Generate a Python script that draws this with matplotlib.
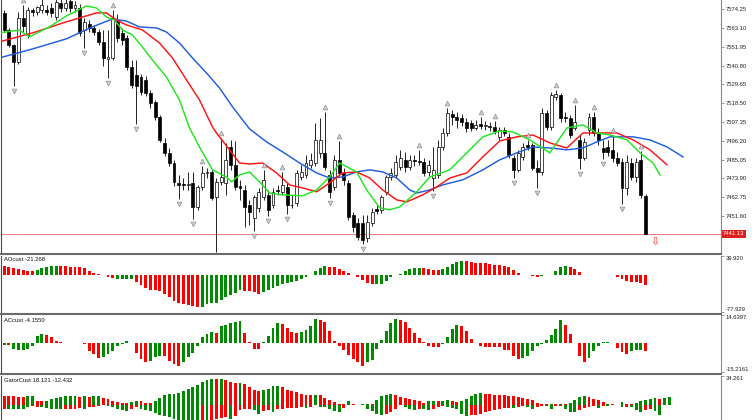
import matplotlib
matplotlib.use("Agg")
import matplotlib.pyplot as plt
import matplotlib.transforms as mtransforms
from matplotlib.lines import Line2D
import numpy as np

plt.rcParams["font.family"] = ["Liberation Sans", "DejaVu Sans"]

# ---- price bars (one per bar, oldest first) ----
opens = [
    7572.1, 7562.0, 7553.1, 7543.0, 7569.1, 7559.0, 7573.9, 7572.7, 7573.9, 7573.9,
    7575.1, 7569.7, 7578.0, 7575.1, 7579.2, 7575.1, 7575.1, 7562.0, 7565.6, 7563.2,
    7560.8, 7554.9, 7544.8, 7545.4, 7567.9, 7560.2, 7557.3, 7540.1, 7535.3, 7534.1,
    7532.4, 7524.6, 7519.3, 7510.4, 7495.0, 7489.1, 7483.1, 7471.3, 7470.7, 7470.1,
    7471.3, 7457.0, 7468.9, 7477.2, 7477.8, 7463.0, 7471.9, 7471.3, 7492.6, 7482.0,
    7469.5, 7467.1, 7458.2, 7450.5, 7456.5, 7463.0, 7464.2, 7458.2, 7467.1, 7466.0,
    7468.9, 7458.2, 7459.4, 7474.8, 7476.0, 7482.0, 7483.1, 7489.1, 7489.1, 7476.0,
    7468.9, 7484.9, 7477.2, 7471.3, 7452.3, 7447.6, 7447.6, 7438.7, 7447.6, 7455.9,
    7455.3, 7466.0, 7474.8, 7476.0, 7480.8, 7484.9, 7480.8, 7484.9, 7484.3, 7483.7,
    7477.8, 7474.2, 7476.0, 7492.6, 7500.9, 7512.2, 7510.4, 7509.8, 7507.5, 7506.9,
    7503.9, 7506.3, 7505.1, 7505.1, 7504.5, 7498.6, 7502.7, 7498.6, 7486.1, 7479.0,
    7486.7, 7493.8, 7493.8, 7480.2, 7477.8, 7512.8, 7504.5, 7522.3, 7523.5, 7510.4,
    7509.8, 7503.9, 7496.8, 7486.1, 7502.7, 7510.4, 7500.9, 7492.0, 7492.6, 7490.9,
    7486.1, 7483.7, 7468.3, 7483.1, 7474.8, 7484.9, 7463.6]
highs = [
    7573.9, 7563.2, 7553.7, 7572.7, 7576.8, 7575.6, 7575.0, 7576.2, 7581.0, 7576.8,
    7578.0, 7582.2, 7581.6, 7582.8, 7581.6, 7579.2, 7577.4, 7569.1, 7567.9, 7565.0,
    7562.6, 7562.0, 7562.0, 7573.9, 7571.5, 7563.2, 7559.0, 7544.2, 7544.2, 7535.9,
    7534.7, 7526.4, 7520.5, 7511.6, 7498.0, 7492.0, 7484.9, 7476.0, 7474.2, 7477.8,
    7477.8, 7470.1, 7481.4, 7480.2, 7479.0, 7474.2, 7498.0, 7495.0, 7496.8, 7496.0,
    7473.1, 7470.1, 7461.2, 7464.2, 7468.3, 7479.0, 7467.1, 7468.3, 7470.1, 7477.8,
    7471.3, 7464.2, 7479.0, 7482.0, 7487.9, 7489.1, 7506.9, 7509.8, 7513.4, 7479.0,
    7487.9, 7496.2, 7480.2, 7473.1, 7454.1, 7450.5, 7452.3, 7452.3, 7456.5, 7458.2,
    7464.2, 7476.0, 7480.2, 7487.9, 7490.9, 7489.7, 7487.9, 7487.9, 7490.9, 7486.1,
    7484.9, 7492.6, 7496.8, 7503.9, 7515.8, 7514.6, 7513.4, 7512.2, 7509.8, 7508.6,
    7508.6, 7510.4, 7508.0, 7507.5, 7508.0, 7504.5, 7504.5, 7500.9, 7487.9, 7490.9,
    7495.0, 7496.8, 7495.0, 7484.9, 7515.8, 7514.6, 7525.2, 7526.4, 7524.6, 7513.4,
    7511.6, 7517.5, 7499.7, 7498.0, 7512.8, 7513.4, 7503.9, 7496.8, 7496.8, 7499.7,
    7489.7, 7486.1, 7487.9, 7486.1, 7486.1, 7490.2, 7464.8]
lows = [
    7560.8, 7551.9, 7528.8, 7541.8, 7560.8, 7557.3, 7570.3, 7570.9, 7572.1, 7570.9,
    7569.7, 7567.9, 7572.7, 7573.3, 7572.7, 7572.7, 7558.5, 7551.3, 7560.8, 7559.0,
    7553.1, 7540.7, 7533.5, 7544.2, 7554.9, 7553.1, 7538.3, 7527.6, 7506.3, 7523.5,
    7522.9, 7515.8, 7508.6, 7495.6, 7487.3, 7481.4, 7469.5, 7461.8, 7467.1, 7467.1,
    7449.9, 7455.3, 7467.1, 7474.2, 7461.2, 7430.4, 7470.1, 7464.2, 7479.0, 7467.1,
    7461.2, 7445.2, 7446.4, 7442.8, 7454.1, 7461.2, 7451.7, 7456.5, 7464.2, 7464.2,
    7452.9, 7456.5, 7457.6, 7473.1, 7474.2, 7480.2, 7481.4, 7486.1, 7479.0, 7462.4,
    7467.1, 7475.4, 7470.1, 7449.3, 7442.2, 7437.5, 7435.1, 7436.3, 7445.8, 7452.9,
    7453.5, 7464.2, 7473.1, 7474.2, 7479.0, 7477.8, 7479.0, 7481.4, 7482.0, 7475.4,
    7475.4, 7466.5, 7474.2, 7490.9, 7499.1, 7505.7, 7503.9, 7505.1, 7501.5, 7502.1,
    7502.7, 7503.3, 7502.7, 7502.1, 7500.3, 7496.8, 7499.1, 7486.1, 7474.2, 7477.8,
    7484.9, 7490.9, 7479.0, 7468.3, 7476.0, 7502.7, 7502.7, 7520.5, 7507.5, 7507.5,
    7498.0, 7502.7, 7479.6, 7484.9, 7499.7, 7499.1, 7493.8, 7485.5, 7487.3, 7483.7,
    7481.4, 7458.8, 7464.2, 7473.1, 7471.9, 7462.4, 7440.9]
closes = [
    7562.0, 7553.1, 7543.0, 7569.1, 7564.4, 7573.9, 7572.7, 7575.6, 7576.8, 7572.7,
    7572.1, 7578.6, 7575.1, 7578.0, 7575.1, 7576.8, 7560.2, 7566.8, 7563.2, 7560.8,
    7554.9, 7545.4, 7546.0, 7569.1, 7557.3, 7556.1, 7540.1, 7529.4, 7528.8, 7525.2,
    7524.6, 7518.7, 7510.4, 7496.8, 7489.1, 7483.1, 7471.9, 7470.1, 7470.1, 7470.7,
    7457.0, 7468.9, 7477.2, 7477.8, 7462.4, 7471.9, 7474.8, 7484.9, 7482.0, 7468.9,
    7468.3, 7457.0, 7454.1, 7463.0, 7466.0, 7473.1, 7455.3, 7466.0, 7466.5, 7470.1,
    7458.2, 7458.0, 7477.2, 7477.8, 7483.1, 7484.9, 7496.8, 7496.8, 7480.8, 7466.0,
    7484.9, 7477.2, 7473.1, 7451.1, 7445.2, 7439.3, 7437.5, 7448.2, 7454.1, 7454.7,
    7463.0, 7474.8, 7477.2, 7483.7, 7486.1, 7480.8, 7484.9, 7484.3, 7483.7, 7477.2,
    7482.0, 7479.0, 7492.6, 7500.9, 7512.8, 7510.4, 7508.6, 7507.5, 7503.9, 7503.9,
    7505.7, 7505.1, 7505.3, 7504.5, 7502.1, 7502.7, 7500.9, 7487.9, 7479.0, 7489.1,
    7492.6, 7492.6, 7480.2, 7477.8, 7512.8, 7504.5, 7523.5, 7524.1, 7509.8, 7509.8,
    7499.7, 7507.5, 7486.1, 7495.6, 7510.4, 7500.9, 7496.8, 7489.7, 7489.7, 7486.1,
    7483.1, 7468.3, 7483.7, 7474.8, 7483.7, 7464.2, 7441.13]
last_price = 7441.13

# ---- alligator lines (bar position, price) ----
jaw_x = [-1.06, 5.94, 13.16, 18.68, 22.93, 25.90, 28.66, 32.27, 34.39, 37.15,
         39.92, 42.89, 45.65, 48.41, 52.02, 55.63, 59.02, 62.63, 66.24, 69.00,
         71.76, 74.73, 77.49, 80.25, 83.23, 85.99, 87.47, 90.23, 92.99, 97.24,
         101.49, 105.10, 108.70, 112.10, 115.71, 119.32, 122.72, 125.69, 128.45,
         133.33, 136.94, 140.55, 143.95]
jaw_y = [7545.4, 7550.7, 7556.7, 7563.8, 7568.5, 7567.3, 7563.8, 7563.2, 7560.8, 7554.3,
         7545.4, 7536.5, 7527.6, 7516.4, 7503.3, 7495.6, 7489.7, 7483.1, 7477.2, 7474.2,
         7474.8, 7477.8, 7479.0, 7477.8, 7474.2, 7467.1, 7465.3, 7467.1, 7470.1, 7473.1,
         7479.0, 7485.0, 7489.1, 7492.6, 7492.0, 7490.9, 7492.0, 7495.6, 7498.6,
         7498.6, 7496.8, 7492.6, 7486.7]
teeth_x = [-1.06, 5.94, 13.16, 19.53, 21.66, 23.78, 25.90, 29.30, 32.91, 35.67,
           38.64, 41.40, 44.16, 45.01, 47.77, 49.89, 52.02, 54.78, 57.75, 60.51,
           63.27, 66.24, 69.00, 71.76, 74.73, 77.49, 80.25, 83.23, 85.35, 88.75,
           91.72, 94.48, 98.09, 101.49, 105.10, 108.70, 112.10, 115.71, 119.32,
           122.72, 126.33, 129.94, 133.33, 136.94, 140.55]
teeth_y = [7554.9, 7560.2, 7566.8, 7572.1, 7572.1, 7567.9, 7565.0, 7562.0, 7554.3, 7545.4,
           7532.4, 7520.5, 7504.5, 7500.9, 7490.9, 7483.1, 7482.5, 7483.1, 7477.2, 7470.1,
           7468.3, 7466.0, 7471.3, 7477.2, 7477.8, 7474.2, 7467.1, 7461.2, 7460.0, 7464.2,
           7468.9, 7474.2, 7477.2, 7486.7, 7496.2, 7498.6, 7499.7, 7495.0, 7492.0,
           7500.9, 7500.9, 7500.9, 7496.8, 7490.9, 7482.0]
lips_x = [-1.06, 3.18, 5.31, 9.55, 13.16, 17.41, 19.53, 21.66, 23.35, 25.05,
          27.18, 29.30, 31.42, 34.39, 37.15, 39.28, 41.40, 44.16, 47.13, 48.20,
          49.89, 52.02, 54.14, 56.26, 59.02, 63.27, 66.24, 69.00, 71.12, 74.73,
          76.86, 79.62, 81.74, 83.86, 87.47, 90.23, 94.48, 98.09, 101.49, 105.10,
          107.86, 111.46, 115.71, 119.32, 122.72, 125.69, 128.45, 132.06, 134.82,
          137.58, 139.07]
lips_y = [7560.2, 7562.0, 7557.9, 7563.8, 7570.3, 7576.2, 7575.1, 7569.7, 7567.9, 7562.0,
          7559.0, 7551.9, 7544.2, 7534.1, 7520.5, 7503.9, 7492.6, 7479.0, 7474.8, 7471.9,
          7476.0, 7477.8, 7471.9, 7465.3, 7464.2, 7463.6, 7467.1, 7474.8, 7483.1, 7477.8,
          7467.1, 7456.5, 7455.3, 7457.0, 7466.0, 7474.8, 7479.0, 7489.1, 7498.6, 7502.1,
          7501.5, 7496.8, 7489.1, 7503.9, 7505.7, 7500.9, 7499.7, 7496.8, 7489.1,
          7483.1, 7476.0]

# bars carrying a fractal arrow
fractal_up = [4, 23, 42, 46, 55, 59, 68, 71, 88, 94, 101, 104, 111, 117, 121, 125, 129, 135]
fractal_down = [2, 17, 22, 28, 37, 40, 53, 56, 60, 69, 76, 91, 108, 113, 122, 127, 131]

price_ticks = [7574.25, 7563.10, 7551.95, 7540.80, 7529.65, 7518.50,
               7507.35, 7496.20, 7485.05, 7473.90, 7462.75, 7451.60]

# ---- AO histogram ----
ao_values = [
    19.3, 17.2, 14.5, 12.4, 10.4, 9.0, 7.6,
    10.4, 14.5, 17.2, 17.9, 18.6,
    18.3, 17.9, 17.2, 17.0, 15.9, 14.5, 9.0, 4.8, 1.4, 0.4,
    -3.5, -6.9,
    -8.6, -8.9, -9.0, -9.0,
    -15.2, -22.1, -26.9, -31.1, -32.4, -34.5, -39.3, -46.2, -55.2, -60.0, -62.1, -63.5, -65.6, -68.3,
    -66.9, -62.1, -60.0, -58.0, -53.1, -46.2, -42.8, -37.3, -32.4,
    -33.0, -33.8, -36.6, -39.3,
    -36.6, -32.4, -27.6, -22.8, -18.6, -15.9, -14.5, -11.7, -9.0, -4.8, -0.7, 9.0, 14.5, 18.6,
    17.2, 15.9, 12.4, 7.6, 3.4, 0.7, -4.8, -10.4, -16.5, -20.0,
    -19.5, -18.6, -11.7, -3.4, -0.5, 1.5, 9.0, 13.1, 14.0, 14.5,
    13.8, 12.4, 11.0, 10.4,
    12.4, 17.2, 22.8, 27.6, 29.7,
    29.0, 27.6, 26.2, 25.5, 24.2, 22.8, 21.4, 20.7, 18.6, 15.9, 10.4, 3.4, 0.7, 0.1, -1.4, -3.4,
    -2.1, -0.7, 0.7, 7.6, 15.9, 17.9,
    17.2, 12.4, 5.5, 0.7, 0.1,
    0.4, 0.6, 0.7,
    -0.3, -0.9, -3.4, -8.3, -11.7, -15.2, -15.5, -17.2, -21.268]
ao_color_runs = [("r", 7), ("g", 5), ("r", 12), ("g", 4), ("r", 14), ("g", 9), ("r", 4),
                 ("g", 14), ("r", 10), ("g", 10), ("r", 4), ("g", 5), ("r", 16), ("g", 6),
                 ("r", 5), ("g", 3), ("r", 9)]
ao_range = (-77.929, 39.920)

# ---- AC histogram ----
ac_values = [
    -1.2, -1.3, -3.0, -3.5, -3.5, -3.1, -1.7, 3.5, 4.7,
    4.2, 3.0, 0.9, 0.3, 0.2, 0.2, 0.2, 0.1, -0.3, -4.0, -5.8, -8.0,
    -7.5, -5.8, -4.0, -1.7, -0.3, 1.0,
    -0.2, -5.2, -8.4, -9.8,
    -9.4, -7.5, -6.6,
    -7.0, -9.3, -11.2, -12.2,
    -10.1, -7.5, -5.2, -1.7, 3.0, 4.7, 5.6,
    5.2,
    8.7, 9.4, 10.5, 11.2, 11.4,
    5.2, 0.3, -3.1, -3.3,
    0.3, 3.5, 7.7, 10.5,
    10.1, 8.0, 5.8, 5.4,
    5.8, 7.0, 8.7, 12.6,
    11.9, 11.0, 6.5, 1.2, -1.4, -3.5, -6.3, -8.4, -10.1, -11.9,
    -9.8, -8.7, -3.1, 1.7, 6.1, 10.5, 12.6,
    11.9, 10.8, 7.9, 5.2, 2.6, 0.3, -1.7, -2.1, -2.2,
    -0.3, 3.1, 7.3, 9.4,
    8.7, 6.1, 2.1, -0.2, -1.7, -2.1, -2.2, -2.3, -2.3, -3.5, -3.6, -7.0, -8.4,
    -7.9, -6.6, -4.4, -1.7, -0.3, 1.7, 4.4, 7.5, 11.9,
    9.6, 4.9, 0.1, -6.6, -10.1,
    -7.9, -4.4, -1.7, 0.3, 0.4,
    0.1, -2.8, -4.9, -6.0,
    -4.3, -3.9, -3.7,
    -4.155]
ac_color_runs = [("g", 1), ("r", 1), ("g", 7), ("r", 12), ("g", 6), ("r", 4), ("g", 3),
                 ("r", 4), ("g", 7), ("r", 1), ("g", 5), ("r", 4), ("g", 4), ("r", 4),
                 ("g", 4), ("r", 10), ("g", 7), ("r", 9), ("g", 4), ("r", 13), ("g", 9),
                 ("r", 5), ("g", 5), ("r", 4), ("g", 3), ("r", 1)]
ac_range = (-15.2161, 14.6397)

# ---- Gator histogram (runs 5 bars past the last price bar) ----
gator_up = [
    10.5, 10.5, 10.5, 9.3, 9.3, 10.1, 10.5,
    4.8, 4.0, 4.8, 6.4, 8.1, 9.3, 10.1, 10.5, 10.5,
    9.7, 10.1, 9.7, 10.1, 10.5,
    8.1, 6.4, 4.8, 3.2, 2.4, 1.6,
    3.2, 4.8,
    4.0, 2.4, 2.4,
    4.0, 8.1, 11.3, 12.9, 13.3, 14.5, 16.1, 19.3, 21.4, 23.4, 27.4, 29.4, 30.6,
    30.2, 30.6, 29.4, 27.4, 25.4,
    26.2,
    24.2, 21.4, 17.3, 16.1,
    17.3, 19.3, 21.8, 22.2,
    20.6, 17.3, 16.1, 15.3, 13.3, 11.3, 11.0,
    12.1,
    11.3, 8.5, 5.2, 3.2, 0.4, 0.3,
    4.0,
    1.2, 0.2,
    0.3, 0.5,
    0.4,
    5.2, 10.5, 12.1, 12.5,
    12.1, 9.3, 8.1, 6.4, 5.6, 4.4, 2.4,
    4.0, 4.8,
    4.0,
    4.8, 5.2,
    4.0, 3.2,
    4.0, 7.3, 10.5, 13.3, 14.1,
    13.3, 12.5, 12.1, 11.3, 11.0, 10.5, 10.1, 9.3, 8.1, 7.3, 5.2, 2.4, 0.8, 0.4,
    0.8, 0.6, 1.2, 1.0,
    2.4, 5.2, 9.3, 10.5,
    8.9, 7.3, 5.2, 3.2,
    0.4, 0.3, 0.2, 3.2, 1.2, 0.8,
    2.4, 4.0, 5.2, 7.3, 7.6,
    7.3, 8.1, 9.7]
gator_up_runs = [("r", 5), ("g", 2), ("r", 2), ("g", 7), ("r", 1), ("g", 1), ("r", 1),
                 ("g", 2), ("r", 6), ("g", 2), ("r", 3), ("g", 13), ("r", 1), ("g", 1),
                 ("r", 3), ("g", 1), ("r", 4), ("g", 4), ("r", 7), ("g", 1), ("r", 6),
                 ("g", 1), ("r", 2), ("g", 2), ("r", 1), ("g", 4), ("r", 7), ("g", 2),
                 ("r", 1), ("g", 2), ("r", 2), ("g", 5), ("r", 14), ("g", 1), ("r", 1),
                 ("g", 1), ("r", 1), ("g", 4), ("r", 4), ("g", 1), ("r", 2), ("g", 1),
                 ("r", 2), ("g", 5), ("r", 1), ("g", 2)]
gator_down = [
    -5.0, -5.0, -4.8, -5.6, -4.8, -2.8, -1.6,
    -2.4, -3.2, -4.0, -4.8, -5.6, -5.6, -4.8, -5.6, -4.8,
    -4.0, -4.8, -3.2, -2.4, -1.6,
    -0.8, -1.6, -3.2, -4.8, -6.4, -7.3,
    -5.6, -3.2,
    -4.8, -6.4, -8.1,
    -9.7, -12.1, -13.7, -15.3, -16.9, -18.5, -21.0, -21.0, -21.0, -21.0, -21.0, -21.0, -19.0,
    -17.0, -16.0, -15.0, -17.7, -13.0,
    -6.9, -5.6, -4.8, -6.9, -10.9,
    -8.1, -6.9, -8.9, -5.6,
    -4.8, -4.0, -4.0, -3.6, -3.2, -4.0, -3.2,
    -0.8,
    -2.8, -2.8, -5.6, -8.1, -8.9, -4.0,
    -0.8,
    -0.8, -0.3,
    -0.4, -5.6,
    -8.1,
    -10.9, -12.1, -10.9, -8.9,
    -4.8, -0.8, -2.8, -4.8, -6.9, -4.8, -5.6,
    -6.9, -5.6,
    -2.8,
    -2.0, -2.8,
    -4.0, -4.8,
    -10.9, -13.7, -12.9, -12.1, -10.9,
    -8.9, -8.1, -6.9, -4.8, -4.0, -3.8, -4.0, -2.8, -1.2, -2.8, -4.8, -2.8, -1.6, -2.0,
    -4.8, -2.0, -1.6, -4.8,
    -8.9, -9.0, -6.9, -4.0,
    -2.8, -1.6, -4.0, -1.6,
    -1.2, -0.4, -0.8, -2.8, -2.4, -2.8,
    -6.9, -8.9, -6.9, -4.8, -8.1,
    -12.1, 0.0, 0.0]
gator_down_runs = [("r", 1), ("g", 5), ("r", 2), ("g", 5), ("r", 4), ("g", 1), ("r", 4),
                   ("g", 5), ("r", 2), ("g", 13), ("r", 1), ("g", 1), ("r", 4), ("g", 1),
                   ("r", 4), ("g", 2), ("r", 2), ("g", 1), ("r", 6), ("g", 1), ("r", 1),
                   ("g", 6), ("r", 2), ("g", 1), ("r", 1), ("g", 5), ("r", 4), ("g", 3),
                   ("r", 1), ("g", 2), ("r", 3), ("g", 5), ("r", 9), ("g", 1), ("r", 2),
                   ("g", 2), ("r", 2), ("g", 2), ("r", 2), ("g", 3), ("r", 4), ("g", 1),
                   ("r", 1), ("g", 1), ("r", 2), ("g", 1), ("r", 1), ("g", 3), ("r", 2),
                   ("g", 4)]
gator_top = 34.261
gator_label_values = (18.121, -12.432)

# ---- styling ----
GREEN = "#008a00"
RED = "#ff0000"
PALETTE = {"g": GREEN, "r": RED}
FS = 4.2
W, H = 752, 420
AX_LEFT, AX_RIGHT = 1.5, 721.0
XLIM = (-0.58, 152.0)


def expand(runs):
    return [PALETTE[c] for c, n in runs for _ in range(n)]


def panel(top_px, bottom_px):
    rect = [AX_LEFT / W, 1 - bottom_px / H, (AX_RIGHT - AX_LEFT) / W, (bottom_px - top_px) / H]
    ax = fig.add_axes(rect)
    ax.set_xlim(*XLIM)
    ax.set_facecolor("white")
    for side in ("top", "bottom"):
        ax.spines[side].set_visible(False)
    ax.spines["left"].set_color("#4a4a4a")
    ax.spines["left"].set_linewidth(0.8)
    ax.spines["right"].set_color("#8a8a8a")
    ax.spines["right"].set_linewidth(0.8)
    ax.set_xticks([])
    ax.yaxis.tick_right()
    ax.tick_params(axis="y", length=2.2, width=0.6, pad=1.2, labelsize=FS,
                   colors="#8a8a8a", labelcolor="#222222")
    return ax


def scale_labels(ax, lo, hi, fmt, show_lo=True):
    ticks = [lo, hi] if show_lo else [hi]
    ax.set_yticks(ticks)
    ax.set_yticklabels([fmt.format(t) for t in ticks])
    for lab, t in zip(ax.get_yticklabels(), ticks):
        lab.set_verticalalignment("bottom" if t == lo else "top")


fig = plt.figure(figsize=(W / 100, H / 100), dpi=100)
fig.patch.set_facecolor("white")

# ---- main price panel ----
ax = panel(0, 253)
ax.set_ylim(7429.7, 7579.77)

o = np.array(opens)
h = np.array(highs)
l = np.array(lows)
c = np.array(closes)
idx = np.arange(len(c))
bull = c >= o
body_lo = np.minimum(o, c)
body_h = np.maximum(np.abs(c - o), 0.35)

ax.vlines(idx, l, h, color="black", linewidth=0.6, zorder=2)
ax.bar(idx[bull], body_h[bull], bottom=body_lo[bull], width=0.62,
       facecolor="white", edgecolor="black", linewidth=0.5, zorder=3)
ax.bar(idx[~bull], body_h[~bull], bottom=body_lo[~bull], width=0.62,
       facecolor="black", edgecolor="black", linewidth=0.5, zorder=3)

ax.plot(jaw_x, jaw_y, color="#1f5ee0", linewidth=1.05, zorder=4)
ax.plot(teeth_x, teeth_y, color="#ff1414", linewidth=1.05, zorder=4)
ax.plot(lips_x, lips_y, color="#22e622", linewidth=1.05, zorder=4)

ax.plot(fractal_up, h[fractal_up] + 2.8, linestyle="none", marker="^", markersize=3.4,
        markerfacecolor="#d2d2d2", markeredgecolor="#8e8e8e", markeredgewidth=0.5, zorder=5)
ax.plot(fractal_down, l[fractal_down] - 2.8, linestyle="none", marker="v", markersize=3.4,
        markerfacecolor="#d2d2d2", markeredgecolor="#8e8e8e", markeredgewidth=0.5, zorder=5)

ax.axhline(last_price, color="#e86a6a", linewidth=0.6, zorder=1)
ax.text(len(c) + 0.9, last_price - 4.9, "\u21e9", color="#ff3a3a", fontsize=8,
        ha="center", va="center", family=["DejaVu Sans"], zorder=6)

ax.set_yticks(price_ticks)
ax.set_yticklabels([f"{p:.2f}" for p in price_ticks])
blend = mtransforms.blended_transform_factory(ax.transAxes, ax.transData)
ax.text(1.003, last_price, f"{last_price:.2f}", transform=blend, ha="left", va="center",
        fontsize=FS, color="white",
        bbox=dict(boxstyle="square,pad=0.25", facecolor="#e0201c", edgecolor="none"))

# ---- AO panel ----
ax_ao = panel(256, 312)
ax_ao.set_ylim(*ao_range)
ax_ao.bar(np.arange(len(ao_values)), ao_values, width=0.62, color=expand(ao_color_runs), linewidth=0)
scale_labels(ax_ao, ao_range[0], ao_range[1], "{:.3f}")
ax_ao.text(0.004, 0.975, f"AOcust {ao_values[-1]:.3f}", transform=ax_ao.transAxes,
           ha="left", va="top", fontsize=FS, color="#111111")

# ---- AC panel ----
ax_ac = panel(315, 372)
ax_ac.set_ylim(*ac_range)
ax_ac.bar(np.arange(len(ac_values)), ac_values, width=0.62, color=expand(ac_color_runs), linewidth=0)
scale_labels(ax_ac, ac_range[0], ac_range[1], "{:.4f}")
ax_ac.text(0.004, 0.955, f"ACcust {ac_values[-1]:.4f}", transform=ax_ac.transAxes,
           ha="left", va="top", fontsize=FS, color="#111111")

# ---- Gator panel ----
ax_g = panel(376, 420)
ax_g.set_ylim(-18.3, gator_top)
gx = np.arange(len(gator_up))
ax_g.bar(gx, gator_up, width=0.62, color=expand(gator_up_runs), linewidth=0)
ax_g.bar(gx, gator_down, width=0.62, color=expand(gator_down_runs), linewidth=0)
scale_labels(ax_g, -18.3, gator_top, "{:.3f}", show_lo=False)
ax_g.text(0.004, 0.95, "GatorCust {:.3f} {:.3f}".format(*gator_label_values),
          transform=ax_g.transAxes, ha="left", va="top", fontsize=FS, color="#111111")

# window separators
for y_px in (254.3, 313.6, 374.4):
    fig.add_artist(Line2D([0, AX_RIGHT / W], [1 - y_px / H] * 2, transform=fig.transFigure,
                          color="#6b6b6b", linewidth=1.5))

fig.savefig("out.png", dpi=100)
